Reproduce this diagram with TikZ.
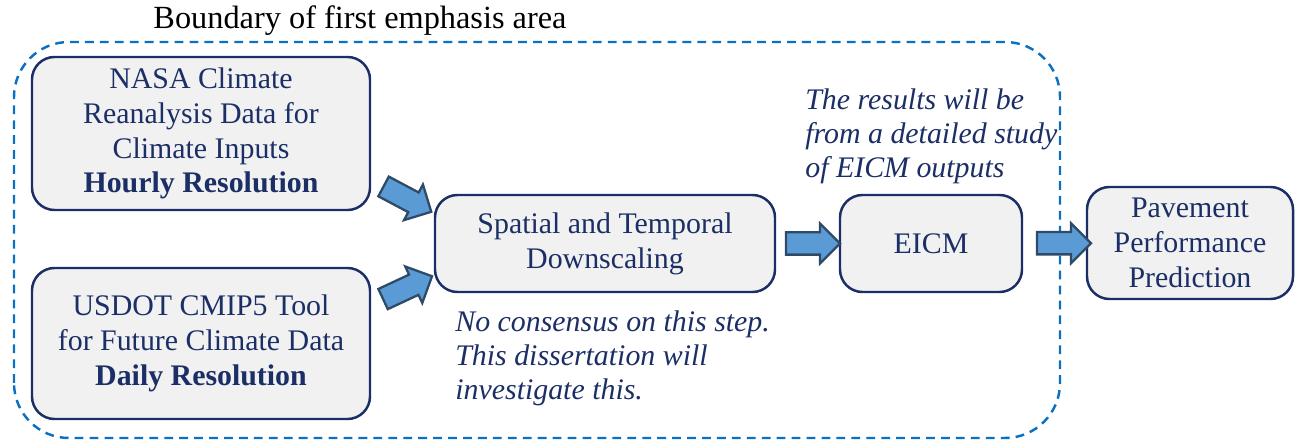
\documentclass[tikz,border=0pt]{standalone}
\usepackage{fontspec}
\setmainfont{Liberation Serif}
\usepackage{xcolor}
\usetikzlibrary{shapes.arrows, calc}

\definecolor{navy}{HTML}{1B2F66}
\definecolor{boxgray}{HTML}{F1F1F1}
\definecolor{arrowblue}{HTML}{5B9BD5}
\definecolor{arrowedge}{HTML}{2F4A66}
\definecolor{dashblue}{HTML}{0A70C2}

\tikzset{
  stage/.style={draw=navy, fill=boxgray, line width=1.4pt, rounded corners=0.45cm,
    text=navy, align=center, inner sep=0pt, font=\fontsize{17}{19.8}\selectfont},
  note/.style={text=navy, align=left, anchor=west, inner sep=0pt,
    font=\fontsize{17}{19.4}\selectfont\itshape},
  flow/.style={single arrow, draw=arrowedge, fill=arrowblue, line width=1.3pt,
    minimum height=1.08cm, single arrow head extend=0.18cm,
    inner xsep=0pt, inner ysep=0.2cm}
}

\begin{document}
\begin{tikzpicture}
%\draw[step=0.5cm,gray,very thin] (0,0) grid (25.9,8.84); %background grid
\useasboundingbox (0,0) rectangle (25.9,8.84);

% first emphasis area
\draw[dashblue, line width=1.4pt, dash pattern=on 5pt off 3.5pt, rounded corners=1.1cm]
  (0.28,0.08) rectangle (21.2,8.0);
\node[font=\fontsize{18.4}{21}\selectfont] (title) at (7.2,8.42) {Boundary of first emphasis area};

\node[stage, minimum width=6.76cm, minimum height=3.06cm] (nasa) at (4.02,6.17)
  {NASA Climate\\Reanalysis Data for\\Climate Inputs\\\textbf{Hourly Resolution}};
\node[stage, minimum width=6.76cm, minimum height=3.02cm] (usdot) at (4.02,1.97)
  {USDOT CMIP5 Tool\\for Future Climate Data\\\textbf{Daily Resolution}};
\node[stage, minimum width=6.8cm, minimum height=1.94cm] (spat) at (12.1,3.97)
  {Spatial and Temporal\\Downscaling};
\node[stage, minimum width=3.64cm, minimum height=1.94cm] (eicm) at (18.62,3.97) {EICM};
\node[stage, minimum width=4.12cm, minimum height=2.24cm] (pav) at (23.8,3.98)
  {Pavement\\Performance\\Prediction};

\node[note] (results) at (16.1,6.12) {The results will be\\from a detailed study\\of EICM outputs};
\node[note] (consensus) at (9.1,1.67) {No consensus on this step.\\This dissertation will\\investigate this.};

% block arrows
\node[flow, rotate=-28] (a1) at ($(nasa.south east)!0.5!(spat.north west)+(0,0.12)$) {};
\node[flow, rotate=25] (a2) at ($(usdot.north east)!0.5!(spat.south west)-(0,0.2)$) {};
\node[flow] (a3) at ($(spat.east)!0.5!(eicm.west)$) {};
\node[flow] (a4) at ($(eicm.east)!0.5!(pav.west)+(0.08,0)$) {};

\end{tikzpicture}
\end{document}
